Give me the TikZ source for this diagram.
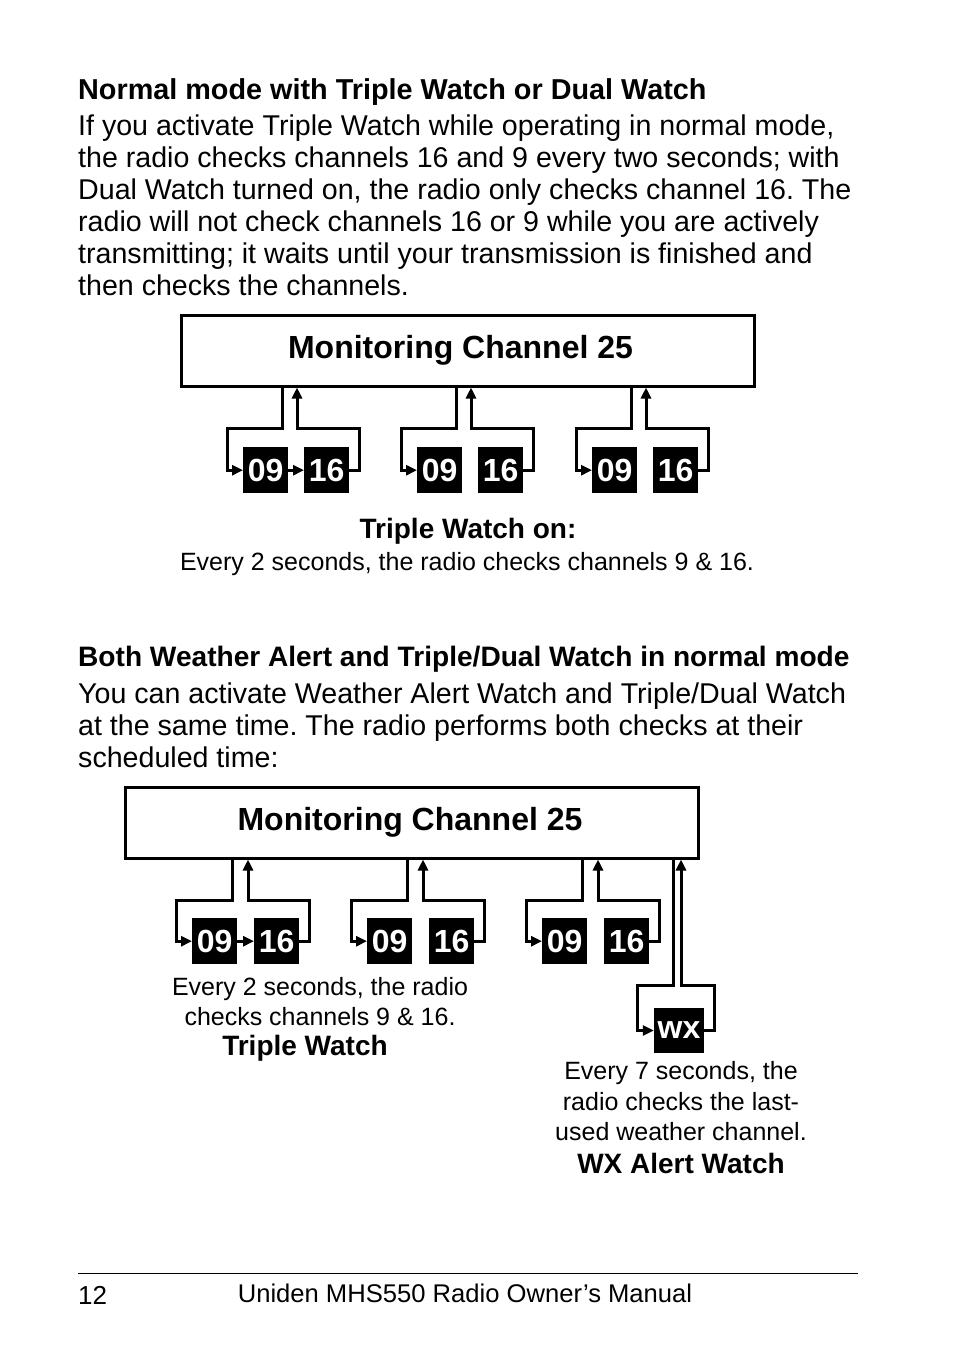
\documentclass[tikz,border=0pt]{standalone}
\usepackage{fontspec}
\setmainfont{Liberation Sans}
\usetikzlibrary{arrows.meta,calc}
\frenchspacing

\tikzset{
  wire/.style={line width=3pt},
  tip/.style={-{Triangle[length=11pt,width=10pt]}},
  mainbox/.style={draw,line width=3pt,minimum width=573pt,minimum height=71pt,inner sep=0pt,font=\fontsize{32}{36}\selectfont\bfseries},
  chan/.style={fill=black,text=white,minimum width=45pt,minimum height=46pt,inner sep=0pt,font=\fontsize{32}{36}\selectfont\bfseries},
  body/.style={anchor=base west,inner sep=0pt,font=\fontsize{28.6}{32}\selectfont},
  head/.style={anchor=base west,inner sep=0pt,font=\fontsize{28.8}{32}\selectfont\bfseries},
  note/.style={anchor=base,inner sep=0pt,font=\fontsize{25}{30}\selectfont},
  notehead/.style={anchor=base,inner sep=0pt,font=\fontsize{28}{32}\selectfont\bfseries}
}

\begin{document}
\begin{tikzpicture}[x=1pt,y=1pt]
	\useasboundingbox (0,0) rectangle (954,-1345);

	% first section
	\node[head] (h1) at (78,-99) {Normal mode with Triple Watch or Dual Watch};
	\foreach \t [count=\i] in {{If you activate Triple Watch while operating in normal mode,},
		{the radio checks channels 16 and 9 every two seconds; with},
		{Dual Watch turned on, the radio only checks channel 16. The},
		{radio will not check channels 16 or 9 while you are actively},
		{transmitting; it waits until your transmission is finished and},
		{then checks the channels.}}
		\node[body] (pa\i) at (78,{-135-32*(\i-1)}) {\t};

	\node[mainbox] (box1) at (467.5,-350.5) {\kern-14pt Monitoring Channel 25};
	\foreach \x [count=\i] in {243,417,592} {
		\node[chan,anchor=north west] (a09\i) at (\x,-447) {09};
		\node[chan,anchor=north west] (a16\i) at (\x+61,-447) {16};
		\coordinate (ad\i) at (\x+39,-428);
		\coordinate (au\i) at (\x+54,-428);
		\draw[wire,tip] (box1.south -| ad\i) -- (ad\i) -| ($(a09\i.west)+(-16,0)$) -- (a09\i.west);
		\draw[wire,tip] (a16\i.east) -- ++(10,0) |- (au\i) -- (box1.south -| au\i);
	}
	\draw[wire,tip] (a091.east) -- (a161.west);
	\node[notehead] (t1) at (468,-538) {Triple Watch on:};
	\node[note] (t1b) at (467,-570) {Every 2 seconds, the radio checks channels 9 \& 16.};

	% second section
	\node[head,font=\fontsize{28.1}{32}\selectfont\bfseries] (h2) at (78,-666) {Both Weather Alert and Triple/Dual Watch in normal mode};
	\foreach \t [count=\i] in {{You can activate Weather Alert Watch and Triple/Dual Watch},
		{at the same time. The radio performs both checks at their},
		{scheduled time:}}
		\node[body] (pb\i) at (78,{-703-32*(\i-1)}) {\t};

	\node[mainbox] (box2) at (411.5,-822.5) {\kern-3pt Monitoring Channel 25};
	\foreach \x [count=\i] in {192,367,542} {
		\node[chan,anchor=north west] (b09\i) at (\x,-918) {09};
		\node[chan,anchor=north west] (b16\i) at (\x+62,-918) {16};
		\coordinate (bd\i) at (\x+40,-900);
		\coordinate (bu\i) at (\x+56,-900);
		\draw[wire,tip] (box2.south -| bd\i) -- (bd\i) -| ($(b09\i.west)+(-16,0)$) -- (b09\i.west);
		\draw[wire,tip] (b16\i.east) -- ++(10,0) |- (bu\i) -- (box2.south -| bu\i);
	}
	\draw[wire,tip] (b091.east) -- (b161.west);

	\node[chan,minimum width=50pt,minimum height=45pt] (wx) at (679,-1030.5) {wx};
	\coordinate (wd) at (673,-985);
	\coordinate (wu) at (681,-985);
	\draw[wire,tip] (box2.south -| wd) -- (wd) -| ($(wx.west)+(-16,0)$) -- (wx.west);
	\draw[wire,tip] (wx.east) -- ++(10,0) |- (wu) -- (box2.south -| wu);

	\node[note] (t2a) at (320,-995) {Every 2 seconds, the radio};
	\node[note] (t2b) at (320,-1025) {checks channels 9 \& 16.};
	\node[notehead] (t2c) at (305,-1055) {Triple Watch};
	\node[note] (t3a) at (681,-1079) {Every 7 seconds, the};
	\node[note] (t3b) at (681,-1110) {radio checks the last-};
	\node[note] (t3c) at (681,-1140) {used weather channel.};
	\node[notehead] (t3d) at (681,-1173) {WX Alert Watch};

	% footer
	\coordinate (fl) at (78,-1273);
	\coordinate (fr) at (858,-1273);
	\draw[line width=1pt] (fl) -- (fr);
	\node[anchor=base west,inner sep=0pt,font=\fontsize{26}{30}\selectfont] (pg) at (78,-1304) {12};
	\node[anchor=base,inner sep=0pt,font=\fontsize{25.6}{30}\selectfont] (ft) at (465,-1302) {Uniden MHS550 Radio Owner’s Manual};
\end{tikzpicture}
\end{document}
